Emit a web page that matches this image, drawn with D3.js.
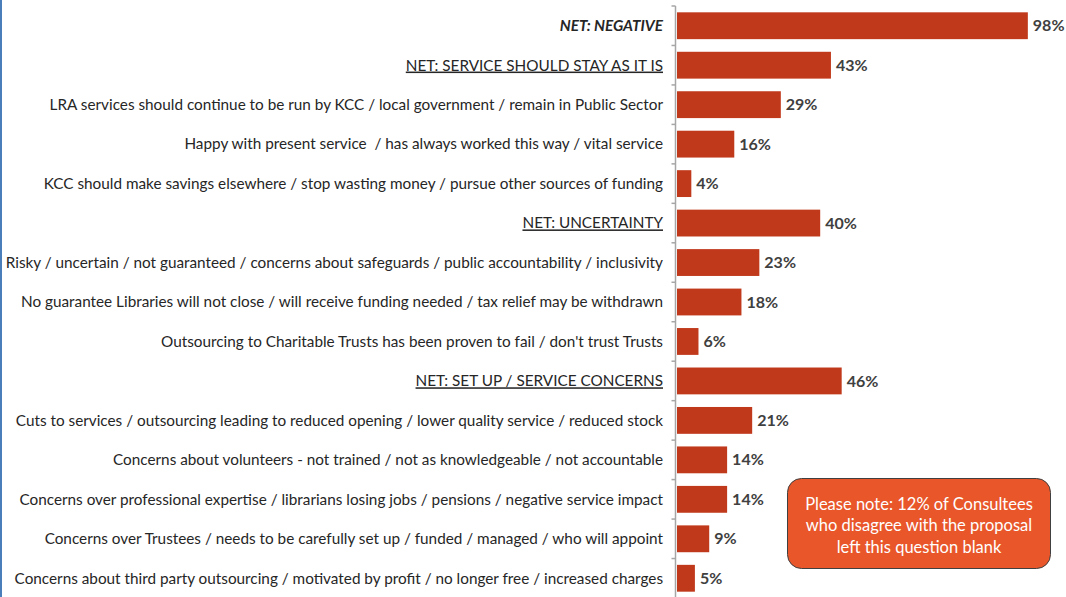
<!DOCTYPE html>
<html>
<head>
<meta charset="utf-8">
<script src="https://cdn.jsdelivr.net/npm/d3@7"></script>
<style>
  body { margin: 0; background: #fff; }
  svg { display: block; font-family: Lato, "Open Sans", sans-serif; }
  text { white-space: pre; }
</style>
</head>
<body>
<svg id="chart" width="1066" height="597"></svg>
<script>
// categories top to bottom
const categories = [
  "NET: NEGATIVE",
  "NET: SERVICE SHOULD STAY AS IT IS",
  "LRA services should continue to be run by KCC / local government / remain in Public Sector",
  "Happy with present service  / has always worked this way / vital service",
  "KCC should make savings elsewhere / stop wasting money / pursue other sources of funding",
  "NET: UNCERTAINTY",
  "Risky / uncertain / not guaranteed / concerns about safeguards / public accountability / inclusivity",
  "No guarantee Libraries will not close / will receive funding needed / tax relief may be withdrawn",
  "Outsourcing to Charitable Trusts has been proven to fail / don't trust Trusts",
  "NET: SET UP / SERVICE CONCERNS",
  "Cuts to services / outsourcing leading to reduced opening / lower quality service / reduced stock",
  "Concerns about volunteers - not trained / not as knowledgeable / not accountable",
  "Concerns over professional expertise / librarians losing jobs / pensions / negative service impact",
  "Concerns over Trustees / needs to be carefully set up / funded / managed / who will appoint",
  "Concerns about third party outsourcing / motivated by profit / no longer free / increased charges"
];
const values = [98, 43, 29, 16, 4, 40, 23, 18, 6, 46, 21, 14, 14, 9, 5];
// label style: "bi" bold italic, "u" underlined, "" plain
const labelStyles = ["bi", "u", "", "", "", "u", "", "", "", "u", "", "", "", "", ""];
const noteLines = [
  "Please note: 12% of Consultees",
  "who disagree with the proposal",
  "left this question blank"
];

const svg = d3.select('#chart');
const W = 1066, H = 597;

const x = d3.scaleLinear().domain([0, 100]).range([677, 1035]);
const y = d3.scaleBand()
  .domain(categories)
  .range([6, 598])
  .paddingInner(0.32)
  .paddingOuter(0.16);

// blue frame line on the left
svg.append('line')
  .attr('x1', 1).attr('x2', 1).attr('y1', 0).attr('y2', H)
  .attr('stroke', '#4a7ebb').attr('stroke-width', 2);

// bars
svg.append('g').selectAll('rect')
  .data(values)
  .enter().append('rect')
  .attr('x', x(0))
  .attr('y', (d, i) => y(categories[i]))
  .attr('width', d => x(d) - x(0))
  .attr('height', y.bandwidth())
  .attr('fill', '#c0391b');

// axis line and ticks at band edges
const axisX = 675.5;
svg.append('line')
  .attr('x1', axisX).attr('x2', axisX).attr('y1', y.range()[0]).attr('y2', H)
  .attr('stroke', '#a6a6a6').attr('stroke-width', 1.5);
svg.append('g').selectAll('line')
  .data(d3.range(categories.length + 1))
  .enter().append('line')
  .attr('x1', axisX - 4).attr('x2', axisX)
  .attr('y1', i => y.range()[0] + i * y.step())
  .attr('y2', i => y.range()[0] + i * y.step())
  .attr('stroke', '#a6a6a6').attr('stroke-width', 1.5);

// category labels
svg.append('g').selectAll('text')
  .data(categories)
  .enter().append('text')
  .attr('x', 663)
  .attr('y', d => y(d) + y.bandwidth() / 2)
  .attr('dy', '0.35em')
  .attr('text-anchor', 'end')
  .attr('font-size', 15.3)
  .attr('fill', '#262626')
  .attr('font-weight', (d, i) => labelStyles[i] === 'bi' ? 'bold' : null)
  .attr('font-style', (d, i) => labelStyles[i] === 'bi' ? 'italic' : null)
  .attr('text-decoration', (d, i) => labelStyles[i] === 'u' ? 'underline' : null)
  .text(d => d);

// value labels
svg.append('g').selectAll('text')
  .data(values)
  .enter().append('text')
  .attr('x', d => x(d) + 5)
  .attr('y', (d, i) => y(categories[i]) + y.bandwidth() / 2)
  .attr('dy', '0.35em')
  .attr('font-size', 16)
  .attr('font-weight', 'bold')
  .attr('fill', '#404040')
  .text(d => d + '%');

// note box
const note = svg.append('g');
note.append('rect')
  .attr('x', 787.5).attr('y', 478.5)
  .attr('width', 263).attr('height', 90)
  .attr('rx', 14)
  .attr('fill', '#e8562a')
  .attr('stroke', '#404040')
  .attr('stroke-width', 1);
note.selectAll('text')
  .data(noteLines)
  .enter().append('text')
  .attr('x', 919)
  .attr('y', (d, i) => 504 + i * 21.5)
  .attr('dy', '0.35em')
  .attr('text-anchor', 'middle')
  .attr('font-size', 16.5)
  .attr('fill', '#fff')
  .text(d => d);
</script>
</body>
</html>
